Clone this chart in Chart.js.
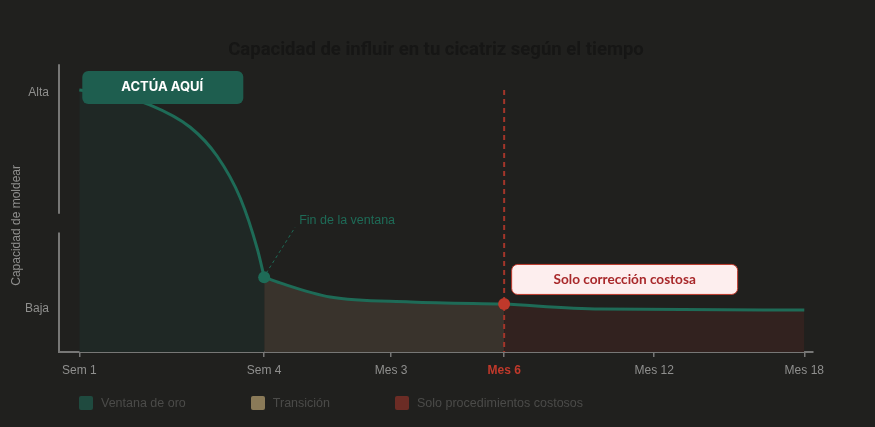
<!DOCTYPE html>
<html lang="es">
<head>
<meta charset="utf-8">
<script src="https://cdn.jsdelivr.net/npm/chart.js@4.4.1/dist/chart.umd.min.js"></script>
<style>
  html, body { margin: 0; padding: 0; background: #20201e; }
  .wrap { position: relative; width: 875px; height: 427px; }
  #legend { position: absolute; left: 79px; top: 396px; display: flex; font: 12.5px "Liberation Sans", Arial, sans-serif; color: #4b4b49; }
  #legend .item { display: flex; align-items: center; margin-right: 65px; }
  #legend .box { width: 14px; height: 14px; border-radius: 2px; margin-right: 8px; }
</style>
</head>
<body>
<div class="wrap">
  <canvas id="scarChart" width="875" height="427"></canvas>
  <div id="legend"></div>
</div>
<script>
// tick labels on the time axis and where they sit (0 = Sem 1, 100 = Mes 18)
const tickLabels = ['Sem 1', 'Sem 4', 'Mes 3', 'Mes 6', 'Mes 12', 'Mes 18'];
const tickPositions = [0, 25.5, 43, 58.6, 79.3, 100];

// y axis levels
const levelLabels = ['Baja', 'Alta'];
const levelValues = [15, 90];

// the curve
const curveX = [0, 5, 9.8, 15.3, 19, 22.2, 24.6, 25.5, 27.7, 34.6, 45.7, 58.6, 71.9, 100];
const curveY = [91, 89.2, 85.8, 78.1, 68.1, 53.5, 35.4, 26, 24, 19.1, 17.4, 16.7, 14.9, 14.6];

// zones (each ends at one of the tick labels)
const zoneLabels = ['Ventana de oro', 'Transición', 'Solo procedimientos costosos'];
const zoneEnds = ['Sem 4', 'Mes 6', 'Mes 18'];

const windowEnd = 'Sem 4';
const alertTick = 'Mes 6';

// colours
const lineGreen = '#1e6b57';
const alertRed = '#c0392b';
const zoneFills = ['#1f2825', '#39332c', '#32221f'];
const zoneSwatches = ['#1f4a3f', '#8a7a58', '#6b2c25'];
const axisGrey = '#777776';
const textGrey = '#8f8f8e';

const pos = label => tickPositions[tickLabels.indexOf(label)];
const valueAt = px => curveY[curveX.indexOf(px)];

const points = curveX.map((x, i) => ({ x: x, y: curveY[i] }));
const bounds = [tickPositions[0]].concat(zoneEnds.map(pos));
const zoneData = zoneLabels.map((_, i) => points.filter(p => p.x >= bounds[i] && p.x <= bounds[i + 1]));

// legend
const legendEl = document.getElementById('legend');
zoneLabels.forEach((label, i) => {
    const item = document.createElement('div');
    item.className = 'item';
    const box = document.createElement('div');
    box.className = 'box';
    box.style.background = zoneSwatches[i];
    const txt = document.createElement('span');
    txt.textContent = label;
    item.appendChild(box);
    item.appendChild(txt);
    legendEl.appendChild(item);
});

const overlay = {
    id: 'overlay',
    beforeDatasetsDraw(chart) {
        const { ctx, chartArea, scales: { y } } = chart;
        ctx.save();
        // y axis line (drawn in two pieces like the original)
        ctx.strokeStyle = axisGrey;
        ctx.lineWidth = 2;
        ctx.beginPath();
        ctx.moveTo(chartArea.left, chartArea.top);
        ctx.lineTo(chartArea.left, y.getPixelForValue(48));
        ctx.moveTo(chartArea.left, y.getPixelForValue(41.5));
        ctx.lineTo(chartArea.left, chartArea.bottom);
        ctx.stroke();

        // y axis title
        ctx.translate(17, y.getPixelForValue(44));
        ctx.rotate(-Math.PI / 2);
        ctx.fillStyle = textGrey;
        ctx.font = '12px "Liberation Sans", Arial, sans-serif';
        ctx.textAlign = 'center';
        ctx.textBaseline = 'middle';
        ctx.fillText('Capacidad de moldear', 0, 0);
        ctx.restore();
    },
    afterDatasetsDraw(chart) {
        const { ctx, chartArea, scales: { x, y } } = chart;
        const startX = x.getPixelForValue(curveX[0]);
        const startY = y.getPixelForValue(curveY[0]);
        const endX = x.getPixelForValue(pos(windowEnd));
        const endY = y.getPixelForValue(valueAt(pos(windowEnd)));
        const alertX = x.getPixelForValue(pos(alertTick));
        const alertY = y.getPixelForValue(valueAt(pos(alertTick)));

        ctx.save();

        // red dashed line at Mes 6
        ctx.strokeStyle = '#a3352a';
        ctx.lineWidth = 2;
        ctx.setLineDash([5, 4]);
        ctx.beginPath();
        ctx.moveTo(alertX, startY);
        ctx.lineTo(alertX, chartArea.bottom);
        ctx.stroke();

        // leader to "Fin de la ventana"
        ctx.strokeStyle = lineGreen;
        ctx.lineWidth = 1;
        ctx.setLineDash([3, 3]);
        ctx.beginPath();
        ctx.moveTo(endX + 2, endY - 4);
        ctx.lineTo(endX + 31, endY - 50);
        ctx.stroke();
        ctx.setLineDash([]);

        ctx.fillStyle = lineGreen;
        ctx.font = '12.5px "Liberation Sans", Arial, sans-serif';
        ctx.textAlign = 'left';
        ctx.textBaseline = 'middle';
        ctx.fillText('Fin de la ventana', endX + 35, endY - 57);

        // markers
        ctx.fillStyle = lineGreen;
        ctx.beginPath();
        ctx.arc(endX, endY, 6, 0, Math.PI * 2);
        ctx.fill();
        ctx.fillStyle = alertRed;
        ctx.beginPath();
        ctx.arc(alertX, alertY, 6, 0, Math.PI * 2);
        ctx.fill();

        // "ACTÚA AQUÍ" badge
        ctx.fillStyle = '#1e5e4f';
        ctx.beginPath();
        ctx.roundRect(startX + 3, startY - 19, 161, 33, 6);
        ctx.fill();
        ctx.fillStyle = '#ffffff';
        ctx.font = 'bold 13px Inter, sans-serif';
        ctx.textAlign = 'center';
        ctx.fillText('ACTÚA AQUÍ', startX + 3 + 80, startY - 3);

        // "Solo corrección costosa" badge
        ctx.fillStyle = '#fdeeee';
        ctx.strokeStyle = alertRed;
        ctx.lineWidth = 1;
        ctx.beginPath();
        ctx.roundRect(alertX + 7.5, alertY - 39.5, 226, 30, 6);
        ctx.fill();
        ctx.stroke();
        ctx.fillStyle = '#a8282a';
        ctx.font = 'bold 13.6px Lato, sans-serif';
        ctx.fillText('Solo corrección costosa', alertX + 7.5 + 113, alertY - 24);

        ctx.restore();
    }
};

const ctx = document.getElementById('scarChart');

new Chart(ctx, {
    type: 'line',
    data: {
        datasets: zoneLabels.map((label, i) => ({
            label: label,
            data: zoneData[i],
            borderColor: lineGreen,
            borderWidth: 3,
            backgroundColor: zoneFills[i],
            fill: 'origin',
            pointRadius: 0,
            cubicInterpolationMode: 'monotone'
        }))
    },
    options: {
        responsive: false,
        animation: false,
        layout: { padding: { left: 0, right: 62, top: 0, bottom: 45 } },
        plugins: {
            legend: { display: false },
            tooltip: { enabled: false },
            title: {
                display: true,
                fullSize: false,
                text: 'Capacidad de influir en tu cicatriz según el tiempo',
                color: '#161615',
                font: { family: 'Roboto', size: 18.5, weight: 'bold' },
                padding: { top: 39, bottom: 3 }
            }
        },
        scales: {
            x: {
                type: 'linear',
                min: -2.8,
                max: 101.2,
                afterBuildTicks: s => { s.ticks = tickPositions.map(v => ({ value: v })); },
                afterFit: s => { s.height = 30; },
                ticks: {
                    autoSkip: false,
                    maxRotation: 0,
                    padding: 6,
                    callback: (v, i) => tickLabels[i],
                    color: c => tickLabels[c.index] === alertTick ? alertRed : textGrey,
                    font: c => tickLabels[c.index] === alertTick ? { size: 12, weight: 'bold' } : { size: 12 }
                },
                grid: { drawOnChartArea: false, color: axisGrey, tickLength: 5, lineWidth: 1.5 },
                border: { color: axisGrey, width: 2 }
            },
            y: {
                min: 0,
                max: 100,
                afterBuildTicks: s => { s.ticks = levelValues.map(v => ({ value: v })); },
                afterFit: s => { s.width = 59; },
                ticks: {
                    padding: 10,
                    color: textGrey,
                    font: { size: 12 },
                    callback: (v, i) => levelLabels[i]
                },
                grid: { display: false, drawTicks: false },
                border: { display: false }
            }
        }
    },
    plugins: [overlay]
});
</script>
</body>
</html>
